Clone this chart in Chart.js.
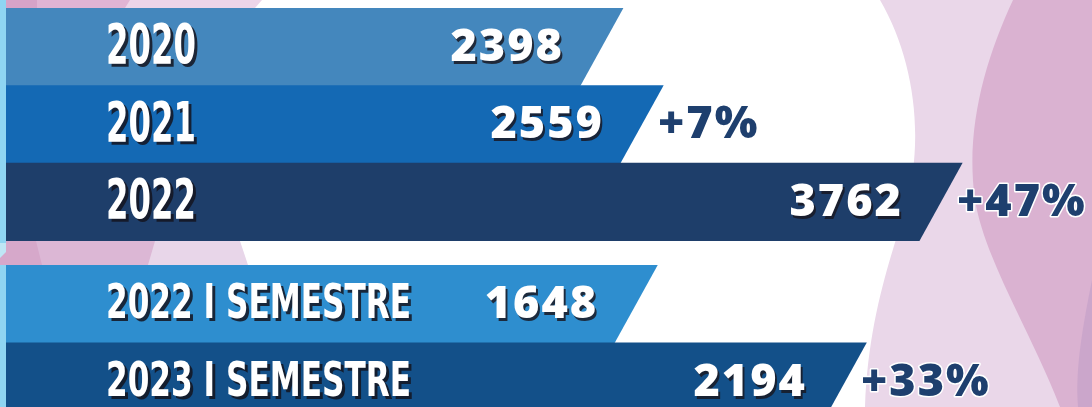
<!DOCTYPE html>
<html>
<head>
<meta charset="utf-8">
<script src="https://cdn.jsdelivr.net/npm/chart.js@4/dist/chart.umd.min.js"></script>
<style>
  html, body { margin: 0; padding: 0; width: 1092px; height: 407px; overflow: hidden; background: #fff; }
  #bg { position: absolute; left: 0; top: 0; }
  .box { position: absolute; left: 0; width: 1092px; }
  #annualBox { top: 8px; height: 233px; }
  #semesterBox { top: 265px; height: 156px; }
</style>
</head>
<body>
<!-- decorative background waves -->
<svg id="bg" width="1092" height="407" xmlns="http://www.w3.org/2000/svg">
  <rect width="1092" height="407" fill="#ffffff"/>
  <path d="M880,0 C915,60 925,140 905,210 C890,260 868,320 865,407 L1092,407 L1092,0 Z" fill="#ead7e9"/>
  <path d="M1013,0 C985,60 965,130 975,200 C985,260 1030,330 1060,407 L1092,407 L1092,0 Z" fill="#dab2d1"/>
  <path d="M1092,280 C1082,330 1075,370 1078,407 L1092,407 Z" fill="#cba6cb"/>
  <!-- top strip -->
  <path d="M0,0 L262,0 L255,8 L0,8 Z" fill="#edd5e9"/>
  <path d="M0,0 L130,0 L125,8 L0,8 Z" fill="#e0b4d4"/>
  <path d="M0,0 L37,0 L37,8 L0,8 Z" fill="#d6a3c8"/>
  <!-- gap strip -->
  <path d="M0,241 L240,241 L248,265 L0,265 Z" fill="#e8d6e9"/>
  <path d="M0,241 L155,241 L148,265 L0,265 Z" fill="#dcb7d5"/>
  <path d="M0,241 L36,241 L42,265 L0,265 Z" fill="#d6a8ca"/>
  <!-- left cyan edge -->
  <rect x="0" y="0" width="6" height="243" fill="#8fd5f2"/>
  <path d="M0,243 L6,243 L6,252 L0,258 Z" fill="#bfe6f5"/>
  <rect x="0" y="265" width="6" height="142" fill="#8fd5f2"/>
</svg>

<div class="box" id="annualBox"><canvas id="annualChart"></canvas></div>
<div class="box" id="semesterBox"><canvas id="semesterChart"></canvas></div>

<script>
// ---- data ----
const annualLabels = ["2020", "2021", "2022"];
const annualValues = [2398, 2559, 3762];
const annualGrowth = [null, "+7%", "+47%"];

const semesterLabels = ["2022 I SEMESTRE", "2023 I SEMESTRE"];
const semesterValues = [1648, 2194];
const semesterGrowth = [null, "+33%"];

/* -------------------------------------------------------
   Plugin: slanted bar ends + all the text
------------------------------------------------------- */
const slantBars = {
    id: "slantBars",
    beforeDatasetDraw() {
        return false; // bars are painted below
    },
    afterDatasetsDraw(chart, args, opts) {
        const ctx = chart.ctx;
        const meta = chart.getDatasetMeta(0);
        const ds = chart.data.datasets[0];
        const left = chart.chartArea.left;

        // bars with a slanted right end
        meta.data.forEach((bar, i) => {
            const { x, y, base, height } = bar.getProps(["x", "y", "base", "height"], true);
            const top = y - height / 2 - 0.5;
            const bottom = y + height / 2 + 0.5;
            const d = height * 0.28;
            ctx.save();
            ctx.fillStyle = ds.backgroundColor[i];
            ctx.beginPath();
            ctx.moveTo(base, top);
            ctx.lineTo(x + d, top);
            ctx.lineTo(x - d, bottom);
            ctx.lineTo(base, bottom);
            ctx.closePath();
            ctx.fill();
            ctx.restore();
        });

        // category labels: condensed, squeezed to the sample width
        ctx.save();
        ctx.font = `bold ${opts.labelSize}px "DejaVu Sans Condensed", "Liberation Sans Narrow", sans-serif`;
        const sx = opts.fitWidth / ctx.measureText(opts.fitSample).width;
        ctx.restore();

        meta.data.forEach((bar, i) => {
            const { x, y } = bar.getProps(["x", "y"], true);

            ctx.save();
            ctx.font = `bold ${opts.labelSize}px "DejaVu Sans Condensed", "Liberation Sans Narrow", sans-serif`;
            ctx.textBaseline = "middle";
            ctx.textAlign = "left";
            ctx.translate(left + opts.labelOffset, y + 2);
            ctx.scale(sx, 1);
            ctx.shadowColor = "rgba(20,20,30,0.85)";
            ctx.shadowOffsetX = 3;
            ctx.shadowOffsetY = 3;
            ctx.fillStyle = "#ffffff";
            ctx.fillText(chart.data.labels[i], 0, 0);
            ctx.restore();

            // value
            ctx.save();
            ctx.font = `800 45px "Open Sans", "DejaVu Sans", sans-serif`;
            ctx.letterSpacing = "2px";
            ctx.textBaseline = "middle";
            ctx.textAlign = "right";
            ctx.shadowColor = "rgba(25,25,35,0.85)";
            ctx.shadowOffsetX = 2;
            ctx.shadowOffsetY = 3;
            ctx.fillStyle = "#ffffff";
            ctx.fillText(String(ds.data[i]), x - 38, y + 1);
            ctx.restore();

            // growth
            const g = opts.growth[i];
            if (g) {
                ctx.save();
                ctx.font = `800 45px "Open Sans", "DejaVu Sans", sans-serif`;
                ctx.letterSpacing = "2px";
                ctx.textBaseline = "middle";
                ctx.textAlign = "left";
                ctx.lineWidth = 3;
                ctx.strokeStyle = "#ffffff";
                ctx.lineJoin = "round";
                ctx.strokeText(g, x + 16, y + 1);
                ctx.fillStyle = "#1e3f6e";
                ctx.fillText(g, x + 16, y + 1);
                ctx.restore();
            }
        });
    }
};

function makeChart(id, labels, values, colors, growth, xMax, labelOpts) {
    return new Chart(document.getElementById(id), {
        type: "bar",
        data: {
            labels,
            datasets: [{
                data: values,
                backgroundColor: colors,
                barPercentage: 1,
                categoryPercentage: 1
            }]
        },
        options: {
            indexAxis: "y",
            responsive: true,
            maintainAspectRatio: false,
            animation: false,
            layout: { padding: { left: 6, right: 0, top: 0, bottom: 0 } },
            scales: {
                x: { display: false, min: 0, max: xMax },
                y: { display: false }
            },
            plugins: {
                legend: { display: false },
                tooltip: { enabled: false },
                slantBars: Object.assign({ growth, labelOffset: 100 }, labelOpts)
            }
        },
        plugins: [slantBars]
    });
}

makeChart("annualChart", annualLabels, annualValues,
    ["#4487bd", "#1469b4", "#1e3e6a"], annualGrowth, 4370,
    { labelSize: 55, fitSample: "2020", fitWidth: 90 });

makeChart("semesterChart", semesterLabels, semesterValues,
    ["#2e8ecf", "#135089"], semesterGrowth, 2840,
    { labelSize: 48, fitSample: "2022 I SEMESTRE", fitWidth: 305 });
</script>
</body>
</html>
